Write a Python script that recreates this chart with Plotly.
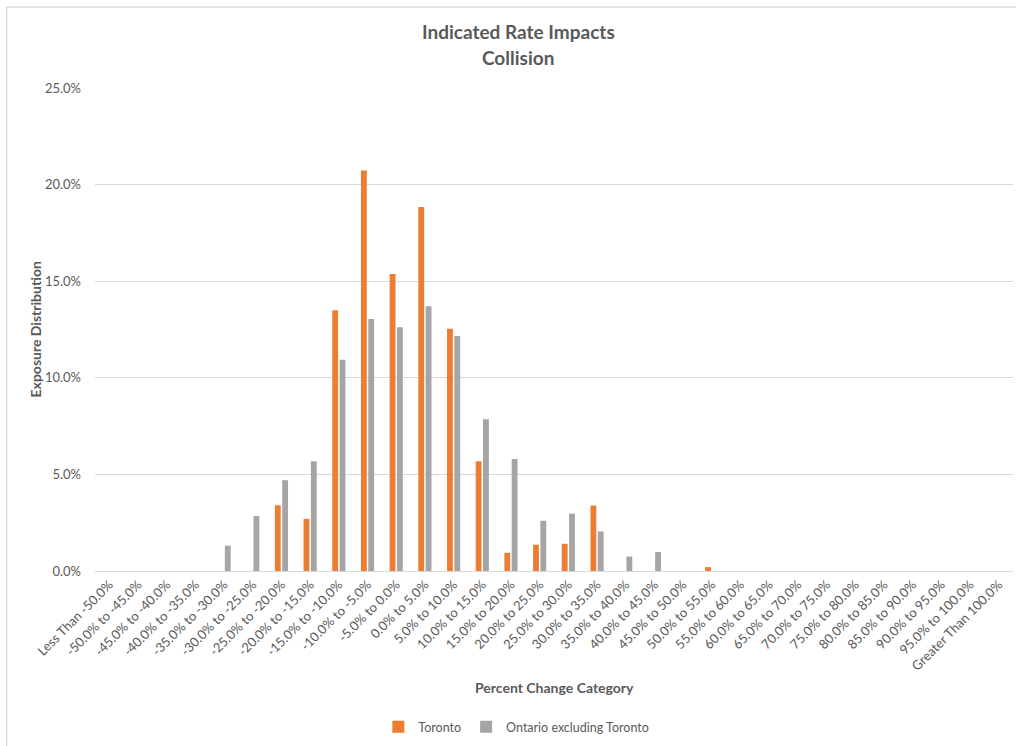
import plotly.graph_objects as go

# Percent-change buckets
categories = ["Less Than -50.0%"] + [
    f"{a:.1f}% to {a + 5:.1f}%" for a in range(-50, 100, 5)
] + ["Greater Than 100.0%"]

# Exposure distribution (%) per bucket
toronto = [0, 0, 0, 0, 0, 0, 3.40, 2.70, 13.50, 20.73, 15.37, 18.84, 12.54, 5.68,
           0.94, 1.36, 1.41, 3.39, 0, 0, 0, 0.20, 0, 0, 0, 0, 0, 0, 0, 0, 0, 0]
ontario_ex_toronto = [0, 0, 0, 0, 1.31, 2.84, 4.70, 5.68, 10.93, 13.04, 12.61, 13.70,
                      12.16, 7.86, 5.80, 2.60, 2.97, 2.05, 0.75, 0.98, 0, 0, 0, 0,
                      0, 0, 0, 0, 0, 0, 0, 0]

y_ticks = [0, 5, 10, 15, 20, 25]

FONT = "Lato, 'Open Sans', sans-serif"
TEXT = "#595959"
GRID = "#d9d9d9"

fig = go.Figure()
fig.add_trace(go.Bar(x=categories, y=toronto, name="Toronto",
                     marker=dict(color="#ed7d31", line=dict(width=0))))
fig.add_trace(go.Bar(x=categories, y=ontario_ex_toronto, name="Ontario excluding Toronto",
                     marker=dict(color="#a5a5a5", line=dict(width=0))))

annotations = [
    dict(text="<b>Indicated Rate Impacts</b>", xref="paper", yref="paper",
         x=0.4608, y=1.118, xanchor="center", yanchor="middle", showarrow=False,
         font=dict(size=19, color=TEXT)),
    dict(text="<b>Collision</b>", xref="paper", yref="paper",
         x=0.4608, y=1.064, xanchor="center", yanchor="middle", showarrow=False,
         font=dict(size=19, color=TEXT)),
    dict(text="<b>Percent Change Category</b>", xref="paper", yref="paper",
         x=0.5, y=-0.2422, xanchor="center", yanchor="middle", showarrow=False,
         font=dict(size=14, color=TEXT)),
    dict(text="<b>Exposure Distribution</b>", xref="paper", yref="paper",
         x=-0.0643, y=0.5, xanchor="center", yanchor="middle", showarrow=False,
         textangle=-90, font=dict(size=14, color=TEXT)),
]

fig.update_layout(
    width=1016, height=746,
    paper_bgcolor="white", plot_bgcolor="white",
    margin=dict(l=95, r=3, t=88, b=175),
    barmode="group", bargap=0.49, bargroupgap=0.2,
    font=dict(family=FONT, color=TEXT),
    annotations=annotations,
    xaxis=dict(
        type="category", tickangle=-45, automargin=False,
        tickfont=dict(size=13, color=TEXT),
        showgrid=False, showline=True, linecolor=GRID, linewidth=1,
        ticks="",
    ),
    yaxis=dict(
        range=[0, 25], tickvals=y_ticks, automargin=False,
        ticktext=[f"{v:.1f}%" for v in y_ticks],
        tickfont=dict(size=13, color=TEXT),
        showgrid=True, gridcolor=GRID, gridwidth=1,
        zeroline=False, showline=False, ticks="",
        ticklabelstandoff=13,
    ),
    legend=dict(orientation="h", x=0.459, xanchor="center",
                y=-0.323, yanchor="middle", yref="paper",
                font=dict(size=12.5, color=TEXT), itemwidth=30),
    shapes=[
        dict(type="line", xref="paper", yref="paper",
             x0=-0.0962, x1=1.2, y0=1.1677, y1=1.1677,
             line=dict(color=GRID, width=1.5), layer="below"),
        dict(type="line", xref="paper", yref="paper",
             x0=-0.0962, x1=-0.0962, y0=-0.6, y1=1.1677,
             line=dict(color=GRID, width=1.5), layer="below"),
    ],
)

fig.write_html("out.html")
